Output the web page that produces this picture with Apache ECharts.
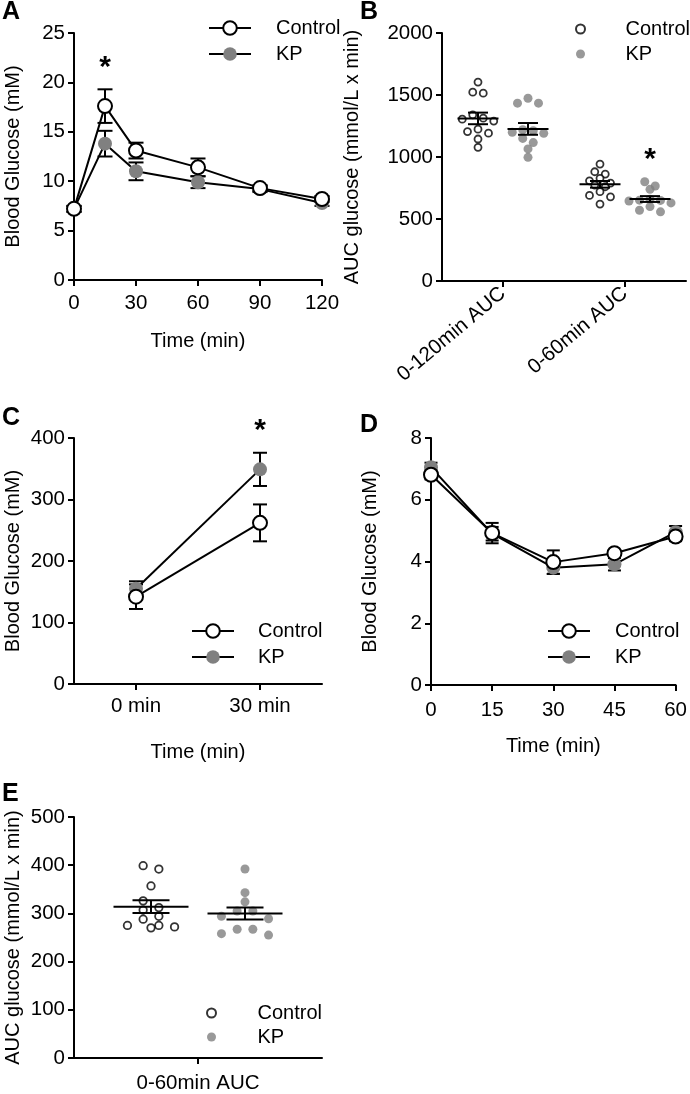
<!DOCTYPE html>
<html><head><meta charset="utf-8">
<script src="https://cdn.jsdelivr.net/npm/echarts@6/dist/echarts.min.js"></script>
<style>html,body{margin:0;padding:0;background:#fff}#c{width:690px;height:1094px}</style>
</head><body><div id="c"></div>
<script>
// ---------------- DATA ----------------
// Panel A: glucose tolerance (mM)
const ogttTime = [0, 15, 30, 60, 90, 120];
const ogttControl = [7.2, 17.6, 13.1, 11.4, 9.3, 8.2];
const ogttControlSem = [0.3, 1.7, 0.8, 0.9, 0.3, 0.3];
const ogttKP = [7.2, 13.8, 11.0, 9.9, 9.2, 7.8];
const ogttKPSem = [0.3, 1.3, 0.9, 0.6, 0.3, 0.3];
const ogttSig = [false, true, false, false, false, false];

// Panel B: AUC glucose
const aucCategories = ['0-120min AUC', '0-60min AUC'];
const aucControl120 = [1604, 1523, 1515, 1340, 1313, 1305, 1290, 1224, 1205, 1192, 1145, 1078];
const aucKP120 = [1474, 1434, 1434, 1220, 1212, 1200, 1191, 1150, 1116, 1065, 997];
const aucControl60 = [943, 881, 862, 828, 808, 790, 774, 760, 720, 690, 679, 620];
const aucKP60 = [800, 766, 739, 660, 652, 650, 645, 630, 600, 571, 558];
const aucSig = [false, true];

// Panel C
const cCategories = ['0 min', '30 min'];
const cControl = [142, 262];
const cControlSem = [20, 30];
const cKP = [155, 349];
const cKPSem = [12, 27];
const cSig = [false, true];

// Panel D
const dTime = [0, 15, 30, 45, 60];
const dControl = [6.81, 4.92, 3.98, 4.27, 4.81];
const dControlSem = [0.15, 0.33, 0.38, 0.1, 0.15];
const dKP = [7.05, 4.9, 3.8, 3.91, 4.95];
const dKPSem = [0.15, 0.22, 0.2, 0.2, 0.2];

// Panel E
const eCategories = ['0-60min AUC'];
const eControl = [399, 392, 357, 326, 312, 307, 294, 288, 275, 275, 272, 270];
const eKP = [392, 343, 324, 305, 305, 294, 289, 267, 267, 258, 255];

// ---------------- STYLE / LAYOUT ----------------
const FONT = "'Liberation Sans', Arial, Helvetica, sans-serif";
const GRAY = '#808080';
const FS = 20;       // titles / legend
const FST = 20.5;    // tick labels
const grids = [
  {left: 74, top: 33, width: 248, height: 247},   // A
  {left: 442, top: 33, width: 244, height: 248},  // B
  {left: 74, top: 438, width: 248, height: 246},  // C
  {left: 431, top: 438, width: 247, height: 247}, // D
  {left: 74, top: 817, width: 248, height: 246}   // E
];

function mean(a) { return a.reduce((s, v) => s + v, 0) / a.length; }
function sem(a) {
  const m = mean(a);
  const v = a.reduce((s, x) => s + (x - m) * (x - m), 0) / (a.length - 1);
  return Math.sqrt(v / a.length);
}
// row-based beeswarm: returns pixel x offsets
function swarm(values, pxPerUnit, rowH, step) {
  const idx = values.map((v, i) => i).sort((a, b) => values[b] - values[a]);
  const dx = new Array(values.length).fill(0);
  let i = 0;
  while (i < idx.length) {
    const row = [idx[i]];
    const y0 = values[idx[i]] * pxPerUnit;
    let j = i + 1;
    while (j < idx.length && y0 - values[idx[j]] * pxPerUnit < rowH) { row.push(idx[j]); j++; }
    const n = row.length;
    const slots = [];
    for (let k = 0; k < n; k++) slots.push((k - (n - 1) / 2) * step);
    slots.sort((a, b) => Math.abs(a) - Math.abs(b) || a - b);
    row.forEach((pi, k) => { dx[pi] = slots[k]; });
    i = j;
  }
  return dx;
}

const axisLineS = {show: true, lineStyle: {color: '#000', width: 2}};
const axisTickS = {show: true, length: 6, lineStyle: {color: '#000', width: 2}};
const labelS = (extra) => Object.assign({color: '#000', fontSize: FST, fontFamily: FONT, margin: 9, formatter: v => String(v)}, extra || {});
const nameS = {color: '#000', fontSize: FS, fontFamily: FONT};

function valueAxis(gi, min, max, interval, name, nameGap, labelExtra) {
  return {
    type: 'value', gridIndex: gi, min, max, interval,
    name, nameLocation: 'middle', nameGap, nameTextStyle: nameS,
    axisLine: axisLineS, axisTick: axisTickS, axisLabel: labelS(labelExtra),
    splitLine: {show: false}
  };
}
function catAxis(gi, data, name, nameGap, labelExtra) {
  return {
    type: 'category', gridIndex: gi, data, boundaryGap: true,
    name, nameLocation: 'middle', nameGap, nameTextStyle: nameS,
    axisLine: axisLineS, axisTick: Object.assign({alignWithLabel: true}, axisTickS),
    axisLabel: labelS(Object.assign({interval: 0, formatter: null}, labelExtra || {})),
    splitLine: {show: false}
  };
}

const lineStyleS = {color: '#000', width: 2};
function lineSeries(name, gi, xs, ys, isCtrl, z) {
  return {
    type: 'line', name, xAxisIndex: gi, yAxisIndex: gi, z, clip: false,
    data: xs.map((x, i) => [x, ys[i]]),
    symbol: 'circle', symbolSize: 14, showSymbol: true,
    itemStyle: isCtrl ? {color: '#fff', borderColor: '#000', borderWidth: 2} : {color: GRAY, borderWidth: 0},
    lineStyle: lineStyleS, emphasis: {disabled: true}, animation: false
  };
}
function errSeries(gi, xs, ys, es, capW) {
  return {
    type: 'custom', xAxisIndex: gi, yAxisIndex: gi, z: 1, silent: true, clip: false,
    data: xs.map((x, i) => [x, ys[i], es[i]]),
    renderItem: (p, api) => {
      const x = api.value(0), m = api.value(1), s = api.value(2);
      const hi = api.coord([x, m + s]), lo = api.coord([x, m - s]);
      const hw = capW / 2, st = {stroke: '#000', lineWidth: 2};
      return {type: 'group', children: [
        {type: 'line', shape: {x1: hi[0], y1: hi[1], x2: lo[0], y2: lo[1]}, style: st},
        {type: 'line', shape: {x1: hi[0] - hw, y1: hi[1], x2: hi[0] + hw, y2: hi[1]}, style: st},
        {type: 'line', shape: {x1: lo[0] - hw, y1: lo[1], x2: lo[0] + hw, y2: lo[1]}, style: st}
      ]};
    }
  };
}
function starSeries(gi, pts, dx) {
  return {
    type: 'custom', xAxisIndex: gi, yAxisIndex: gi, z: 5, silent: true, clip: false,
    data: pts,
    renderItem: (p, api) => {
      const c = api.coord([api.value(0), api.value(1)]);
      return {type: 'text', x: c[0] + dx, y: c[1] - 22, style: {text: '*', fontSize: 30, fontWeight: 'bold', fontFamily: FONT, fill: '#000', align: 'center', verticalAlign: 'middle'}};
    }
  };
}
function dotSeries(name, gi, groups, groupDx, pxPerUnit, rowH, step, isCtrl, size) {
  const data = [];
  groups.forEach((vals, c) => {
    const off = swarm(vals, pxPerUnit, rowH, step);
    vals.forEach((v, i) => data.push({value: [c, v], symbolOffset: [groupDx + off[i], 0]}));
  });
  return {
    type: 'scatter', name, xAxisIndex: gi, yAxisIndex: gi, z: 2, clip: false,
    symbol: 'circle', symbolSize: size, data,
    itemStyle: isCtrl ? {color: '#fff', borderColor: '#000', borderWidth: 1.8} : {color: GRAY, borderWidth: 0},
    emphasis: {disabled: true}, animation: false
  };
}
function meanSemSeries(gi, groups, groupDx, meanW, capW) {
  return {
    type: 'custom', xAxisIndex: gi, yAxisIndex: gi, z: 4, silent: true, clip: false,
    data: groups.map((vals, c) => [c, mean(vals), sem(vals)]),
    renderItem: (p, api) => {
      const c = api.value(0), m = api.value(1), s = api.value(2);
      const pm = api.coord([c, m]), hi = api.coord([c, m + s]), lo = api.coord([c, m - s]);
      const x = pm[0] + groupDx, st = {stroke: '#000', lineWidth: 2};
      return {type: 'group', children: [
        {type: 'line', shape: {x1: x - meanW / 2, y1: pm[1], x2: x + meanW / 2, y2: pm[1]}, style: st},
        {type: 'line', shape: {x1: x, y1: hi[1], x2: x, y2: lo[1]}, style: st},
        {type: 'line', shape: {x1: x - capW / 2, y1: hi[1], x2: x + capW / 2, y2: hi[1]}, style: st},
        {type: 'line', shape: {x1: x - capW / 2, y1: lo[1], x2: x + capW / 2, y2: lo[1]}, style: st}
      ]};
    }
  };
}

// significance marker positions derived from data
const aStars = ogttTime.map((t, i) => [t, Math.max(ogttControl[i] + ogttControlSem[i], ogttKP[i] + ogttKPSem[i]), ogttSig[i]]).filter(d => d[2]).map(d => [d[0], d[1]]);
const cStars = cCategories.map((t, i) => [i, Math.max(cControl[i] + cControlSem[i], cKP[i] + cKPSem[i]), cSig[i]]).filter(d => d[2]).map(d => [d[0], d[1]]);
const bStars = [aucKP120, aucKP60].map((vals, i) => [i, Math.max.apply(null, vals), aucSig[i]]).filter(d => d[2]).map(d => [d[0], d[1]]);

function legend(left, top, data, iw, ih, padLeft, gap) {
  return {
    orient: 'vertical', selectedMode: false, padding: 0, itemGap: gap,
    formatter: n => n.split('|')[0],
    left, top, data, itemWidth: iw, itemHeight: ih,
    textStyle: {color: '#000', fontSize: FS, fontFamily: FONT, padding: [0, 0, 0, padLeft]}
  };
}
const letter = (t, left, top) => ({text: t, left, top, padding: 0, textStyle: {fontSize: 25, fontWeight: 'bold', fontFamily: FONT, color: '#000'}});

const pxB = grids[1].height / 2000;
const pxE = grids[4].height / 500;

const option = {
  animation: false,
  backgroundColor: '#fff',
  textStyle: {fontFamily: FONT},
  title: [letter('A', 2, 0), letter('B', 360, 0), letter('C', 2, 406), letter('D', 360, 413), letter('E', 2, 782)],
  grid: grids,
  legend: [
    legend(208, 18, ['Control', 'KP'], 42, 17, 20, 6),
    legend(575, 19, ['Control|dot', 'KP|dot'], 10, 9, 35, 5),
    legend(191, 621, ['Control', 'KP'], 42, 17, 19, 6),
    legend(547, 621, ['Control', 'KP'], 42, 17, 20, 6),
    legend(206, 1003, ['Control|dot', 'KP|dot'], 10, 9, 36, 4)
  ],
  xAxis: [
    valueAxis(0, 0, 120, 30, 'Time (min)', 51, {margin: 13}),
    catAxis(1, aucCategories, '', 0, {rotate: 40, margin: 10}),
    catAxis(2, cCategories, 'Time (min)', 58, {margin: 12}),
    valueAxis(3, 0, 60, 15, 'Time (min)', 51, {margin: 15}),
    catAxis(4, eCategories, '', 0, {margin: 15})
  ],
  yAxis: [
    valueAxis(0, 0, 25, 5, 'Blood Glucose (mM)', 51),
    valueAxis(1, 0, 2000, 500, 'AUC glucose (mmol/L x min)', 80),
    valueAxis(2, 0, 400, 100, 'Blood Glucose (mM)', 51),
    valueAxis(3, 0, 8, 2, 'Blood Glucose (mM)', 51),
    valueAxis(4, 0, 500, 100, 'AUC glucose (mmol/L x min)', 51)
  ],
  series: [
    // A
    errSeries(0, ogttTime, ogttKP, ogttKPSem, 15),
    errSeries(0, ogttTime, ogttControl, ogttControlSem, 15),
    lineSeries('KP', 0, ogttTime, ogttKP, false, 2),
    lineSeries('Control', 0, ogttTime, ogttControl, true, 3),
    starSeries(0, aStars, 0),
    // B
    dotSeries('Control|dot', 1, [aucControl120, aucControl60], -25, pxB, 6.5, 10.5, true, 7),
    dotSeries('KP|dot', 1, [aucKP120, aucKP60], 25, pxB, 6.5, 10.5, false, 9),
    meanSemSeries(1, [aucControl120, aucControl60], -25, 41, 20),
    meanSemSeries(1, [aucKP120, aucKP60], 25, 41, 20),
    starSeries(1, bStars, 25),
    // C
    errSeries(2, [0, 1], cKP, cKPSem, 14),
    errSeries(2, [0, 1], cControl, cControlSem, 14),
    lineSeries('KP', 2, [0, 1], cKP, false, 2),
    lineSeries('Control', 2, [0, 1], cControl, true, 3),
    starSeries(2, cStars, 0),
    // D
    errSeries(3, dTime, dKP, dKPSem, 13),
    errSeries(3, dTime, dControl, dControlSem, 13),
    lineSeries('KP', 3, dTime, dKP, false, 2),
    lineSeries('Control', 3, dTime, dControl, true, 3),
    // E
    dotSeries('Control|dot', 4, [eControl], -47, pxE, 8, 15.7, true, 7.5),
    dotSeries('KP|dot', 4, [eKP], 47, pxE, 8, 15.7, false, 9),
    meanSemSeries(4, [eControl], -47, 75, 37),
    meanSemSeries(4, [eKP], 47, 75, 37)
  ]
};
const chart = echarts.init(document.getElementById('c'), null, {renderer: 'canvas'});
chart.setOption(option);
</script>
</body></html>
